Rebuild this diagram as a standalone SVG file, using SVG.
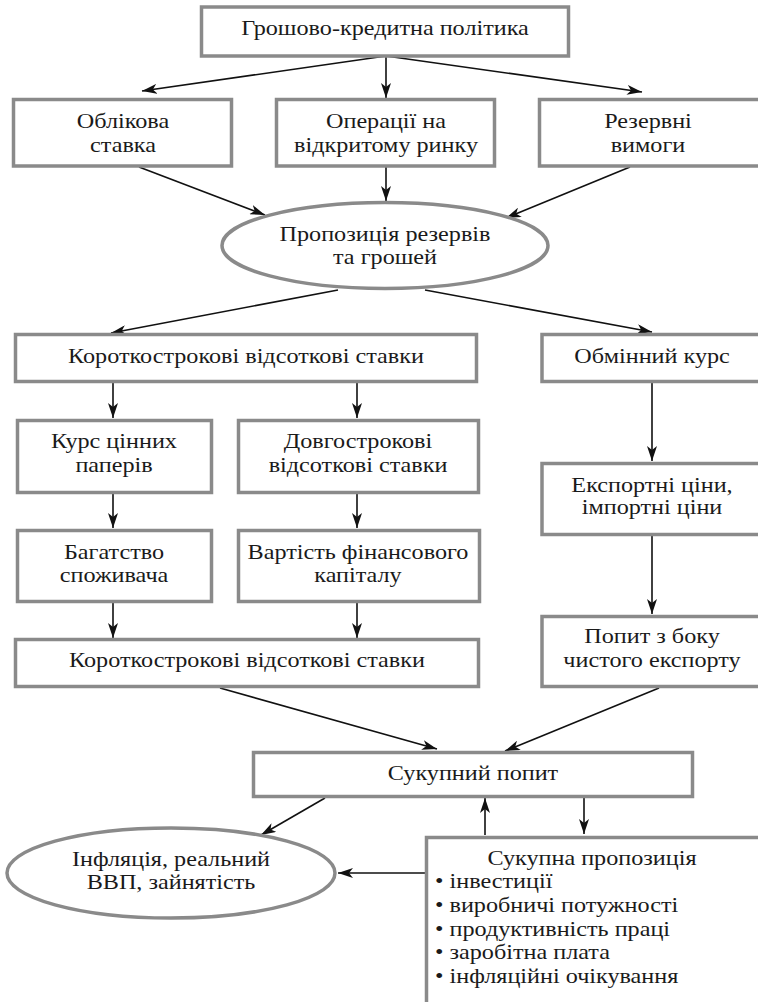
<svg xmlns="http://www.w3.org/2000/svg" width="758" height="1002" viewBox="0 0 758 1002">
<defs>
<marker id="ah" markerUnits="userSpaceOnUse" markerWidth="16" markerHeight="10" refX="15" refY="5" orient="auto">
<path d="M0,0 L15,5 L0,10 L4,5 Z" fill="#111"/>
</marker>
<style>
.box{fill:#fff;stroke:#8a8a8a;stroke-width:3.5}
text{font-family:'Liberation Serif','Times New Roman',serif;font-size:20.5px;fill:#1a1a1a}
.t{text-anchor:middle}
.c line{stroke:#111;stroke-width:1.6;marker-end:url(#ah)}
</style>
</defs>
<rect width="758" height="1002" fill="#fff"/>
<g class="c" id="connectors">
<line x1="386" y1="56" x2="142" y2="91"/>
<line x1="386" y1="56" x2="386" y2="98"/>
<line x1="386" y1="56" x2="642" y2="92"/>
<line x1="139" y1="167" x2="265" y2="215"/>
<line x1="386" y1="167" x2="386" y2="201"/>
<line x1="630" y1="167" x2="506" y2="218"/>
<line x1="338" y1="290" x2="111" y2="333"/>
<line x1="425" y1="290" x2="652" y2="332"/>
<line x1="113" y1="383" x2="113" y2="418"/>
<line x1="357" y1="383" x2="357" y2="418"/>
<line x1="652" y1="383" x2="652" y2="461"/>
<line x1="113" y1="494" x2="113" y2="528"/>
<line x1="357" y1="494" x2="357" y2="528"/>
<line x1="652" y1="536" x2="652" y2="614"/>
<line x1="113" y1="603" x2="113" y2="638"/>
<line x1="357" y1="603" x2="357" y2="638"/>
<line x1="220" y1="688" x2="437" y2="749"/>
<line x1="659" y1="688" x2="505" y2="751"/>
<line x1="325" y1="798" x2="261" y2="835"/>
<line x1="485" y1="835" x2="485" y2="798"/>
<line x1="584" y1="798" x2="584" y2="834"/>
<line x1="425" y1="873" x2="338" y2="873"/>
</g>
<g id="n-policy"><rect class="box" x="201.5" y="7" width="367" height="49"/><text class="t" transform="translate(385,35) scale(1.18,1)">Грошово-кредитна політика</text></g>
<g id="n-discount"><rect class="box" x="13.5" y="99.5" width="218" height="66.5"/><text class="t" transform="translate(123,128) scale(1.18,1)">Облікова</text><text class="t" transform="translate(123,152) scale(1.18,1)">ставка</text></g>
<g id="n-openmarket"><rect class="box" x="276.5" y="99.5" width="218" height="66.5"/><text class="t" transform="translate(386,128) scale(1.18,1)">Операції на</text><text class="t" transform="translate(386,152) scale(1.18,1)">відкритому ринку</text></g>
<g id="n-reserve"><rect class="box" x="539.5" y="99.5" width="240" height="66.5"/><text class="t" transform="translate(648,128) scale(1.18,1)">Резервні</text><text class="t" transform="translate(648,152) scale(1.18,1)">вимоги</text></g>
<g id="n-supply"><ellipse class="box" cx="385" cy="245.5" rx="163" ry="43"/><text class="t" transform="translate(385,241) scale(1.18,1)">Пропозиція резервів</text><text class="t" transform="translate(385,264) scale(1.18,1)">та грошей</text></g>
<g id="n-short1"><rect class="box" x="15.5" y="334.5" width="461" height="47"/><text class="t" transform="translate(246,363) scale(1.18,1)">Короткострокові відсоткові ставки</text></g>
<g id="n-exchange"><rect class="box" x="542" y="334.5" width="240" height="47"/><text class="t" transform="translate(652,363) scale(1.18,1)">Обмінний курс</text></g>
<g id="n-securities"><rect class="box" x="17.5" y="420.5" width="194" height="72"/><text class="t" transform="translate(114,448) scale(1.18,1)">Курс цінних</text><text class="t" transform="translate(114,472) scale(1.18,1)">паперів</text></g>
<g id="n-long"><rect class="box" x="238.5" y="420.5" width="240" height="72"/><text class="t" transform="translate(358,448) scale(1.18,1)">Довгострокові</text><text class="t" transform="translate(358,472) scale(1.18,1)">відсоткові ставки</text></g>
<g id="n-prices"><rect class="box" x="542" y="463.5" width="240" height="71"/><text class="t" transform="translate(652,492) scale(1.18,1)">Експортні ціни,</text><text class="t" transform="translate(652,514) scale(1.18,1)">імпортні ціни</text></g>
<g id="n-wealth"><rect class="box" x="17.5" y="530.5" width="194" height="71"/><text class="t" transform="translate(114,559) scale(1.18,1)">Багатство</text><text class="t" transform="translate(114,582) scale(1.18,1)">споживача</text></g>
<g id="n-capital"><rect class="box" x="238.5" y="530.5" width="241" height="71"/><text class="t" transform="translate(358,559) scale(1.18,1)">Вартість фінансового</text><text class="t" transform="translate(358,582) scale(1.18,1)">капіталу</text></g>
<g id="n-short2"><rect class="box" x="15.5" y="639.5" width="463" height="47"/><text class="t" transform="translate(247,667) scale(1.18,1)">Короткострокові відсоткові ставки</text></g>
<g id="n-netexport"><rect class="box" x="542" y="616.5" width="240" height="70"/><text class="t" transform="translate(652,643) scale(1.18,1)">Попит з боку</text><text class="t" transform="translate(652,667) scale(1.18,1)">чистого експорту</text></g>
<g id="n-ad"><rect class="box" x="253.5" y="752.5" width="439" height="44"/><text class="t" transform="translate(473,780) scale(1.18,1)">Сукупний попит</text></g>
<g id="n-result"><ellipse class="box" cx="171" cy="873" rx="164" ry="45"/><text class="t" transform="translate(171,866) scale(1.18,1)">Інфляція, реальний</text><text class="t" transform="translate(171,889) scale(1.18,1)">ВВП, зайнятість</text></g>
<g id="n-as"><rect class="box" x="426.5" y="837.5" width="400" height="200"/><text class="t" transform="translate(592,865) scale(1.18,1)">Сукупна пропозиція</text>
<text transform="translate(435,888) scale(1.18,1)">• інвестиції</text>
<text transform="translate(435,912) scale(1.18,1)">• виробничі потужності</text>
<text transform="translate(435,936) scale(1.18,1)">• продуктивність праці</text>
<text transform="translate(435,959) scale(1.18,1)">• заробітна плата</text>
<text transform="translate(435,983) scale(1.18,1)">• інфляційні очікування</text></g>
</svg>
